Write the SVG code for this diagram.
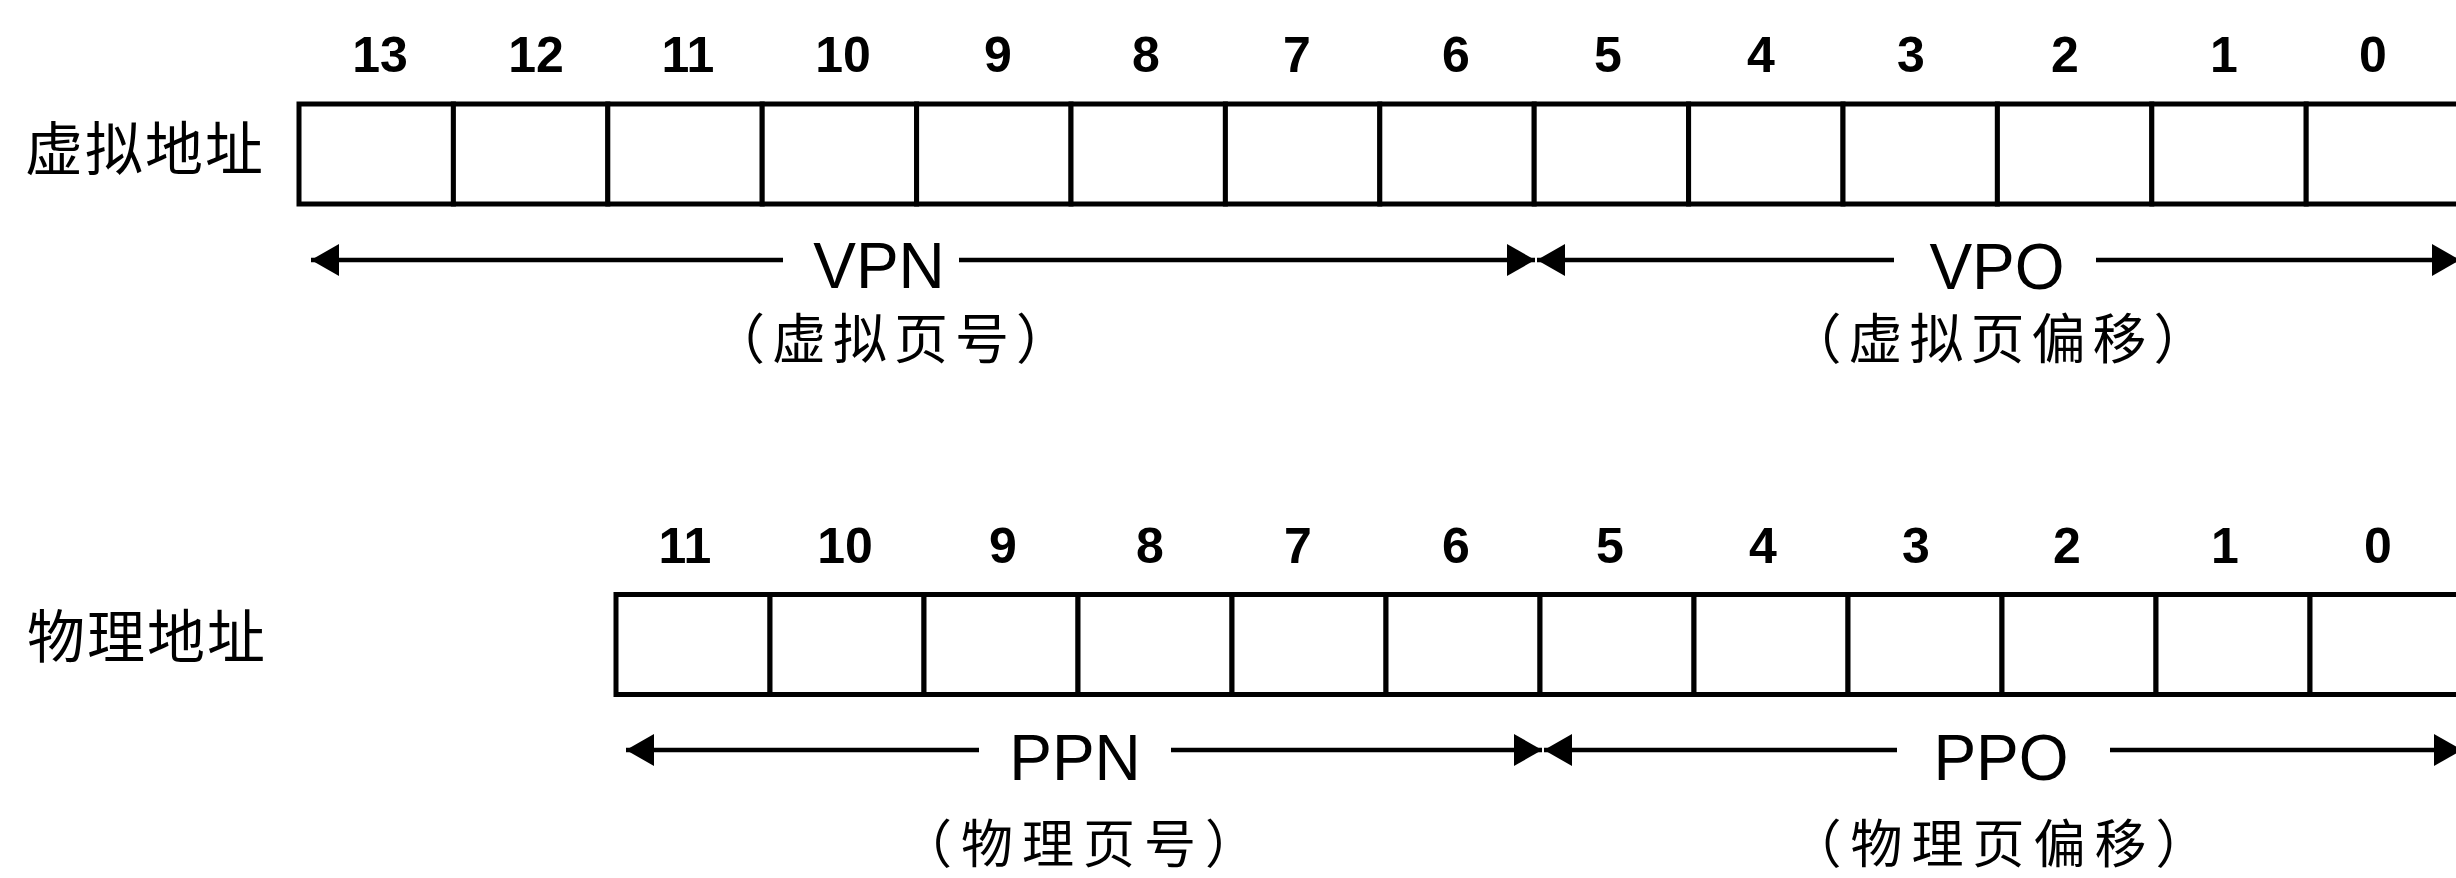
<svg xmlns="http://www.w3.org/2000/svg" width="2456" height="878" viewBox="0 0 2456 878">
<style>
.cell{fill:#fff;stroke:#000;stroke-width:5}
.num{font-family:"Liberation Sans",Arial,sans-serif;font-weight:bold;font-size:50px;fill:#000;text-anchor:middle}
.fld{font-family:"Liberation Sans",Arial,sans-serif;font-size:64px;fill:#000;text-anchor:middle}
.cjk{font-family:"Noto Sans CJK SC",sans-serif;font-size:54px;fill:#000;text-anchor:middle;letter-spacing:7px}
.cjk2{font-family:"Noto Sans CJK SC",sans-serif;font-size:52px;fill:#000;text-anchor:middle;letter-spacing:9px}
.lbl{font-family:"Noto Sans CJK SC",sans-serif;font-size:58px;fill:#000;letter-spacing:2px}
.arr{stroke:#000;stroke-width:4.5;fill:none;marker-end:url(#head)}
</style>
<defs>
<marker id="head" markerUnits="userSpaceOnUse" viewBox="0 0 28 32" refX="28" refY="16" markerWidth="28" markerHeight="32" orient="auto">
<path d="M0,0 L28,16 L0,32 Z" fill="#000"/>
</marker>
</defs>
<rect width="2456" height="878" fill="#fff"/>

<g id="label-virtual"><text class="lbl" x="25" y="170">虚拟地址</text></g>
<g id="label-physical"><text class="lbl" x="27" y="658">物理地址</text></g>

<g id="reg-virtual">
<rect class="cell" x="299" y="104" width="154.4" height="100"/>
<rect class="cell" x="453.4" y="104" width="154.4" height="100"/>
<rect class="cell" x="607.8" y="104" width="154.4" height="100"/>
<rect class="cell" x="762.2" y="104" width="154.4" height="100"/>
<rect class="cell" x="916.6" y="104" width="154.4" height="100"/>
<rect class="cell" x="1071" y="104" width="154.4" height="100"/>
<rect class="cell" x="1225.4" y="104" width="154.4" height="100"/>
<rect class="cell" x="1379.8" y="104" width="154.4" height="100"/>
<rect class="cell" x="1534.2" y="104" width="154.4" height="100"/>
<rect class="cell" x="1688.6" y="104" width="154.4" height="100"/>
<rect class="cell" x="1843" y="104" width="154.4" height="100"/>
<rect class="cell" x="1997.4" y="104" width="154.4" height="100"/>
<rect class="cell" x="2151.8" y="104" width="154.4" height="100"/>
<rect class="cell" x="2306.2" y="104" width="156" height="100"/>
</g>
<g id="bits-virtual">
<text class="num" x="380" y="72">13</text>
<text class="num" x="536" y="72">12</text>
<text class="num" x="688" y="72">11</text>
<text class="num" x="843" y="72">10</text>
<text class="num" x="998" y="72">9</text>
<text class="num" x="1146" y="72">8</text>
<text class="num" x="1297" y="72">7</text>
<text class="num" x="1456" y="72">6</text>
<text class="num" x="1608" y="72">5</text>
<text class="num" x="1761" y="72">4</text>
<text class="num" x="1911" y="72">3</text>
<text class="num" x="2065" y="72">2</text>
<text class="num" x="2224" y="72">1</text>
<text class="num" x="2373" y="72">0</text>
</g>

<g id="reg-physical">
<rect class="cell" x="616" y="594.5" width="154" height="100"/>
<rect class="cell" x="770" y="594.5" width="154" height="100"/>
<rect class="cell" x="924" y="594.5" width="154" height="100"/>
<rect class="cell" x="1078" y="594.5" width="154" height="100"/>
<rect class="cell" x="1232" y="594.5" width="154" height="100"/>
<rect class="cell" x="1386" y="594.5" width="154" height="100"/>
<rect class="cell" x="1540" y="594.5" width="154" height="100"/>
<rect class="cell" x="1694" y="594.5" width="154" height="100"/>
<rect class="cell" x="1848" y="594.5" width="154" height="100"/>
<rect class="cell" x="2002" y="594.5" width="154" height="100"/>
<rect class="cell" x="2156" y="594.5" width="154" height="100"/>
<rect class="cell" x="2310" y="594.5" width="156" height="100"/>
</g>
<g id="bits-physical">
<text class="num" x="685" y="563">11</text>
<text class="num" x="845" y="563">10</text>
<text class="num" x="1003" y="563">9</text>
<text class="num" x="1150" y="563">8</text>
<text class="num" x="1298" y="563">7</text>
<text class="num" x="1456" y="563">6</text>
<text class="num" x="1610" y="563">5</text>
<text class="num" x="1763" y="563">4</text>
<text class="num" x="1916" y="563">3</text>
<text class="num" x="2067" y="563">2</text>
<text class="num" x="2225" y="563">1</text>
<text class="num" x="2378" y="563">0</text>
</g>

<g id="connectors">
<line class="arr" x1="783" y1="260" x2="311" y2="260"/>
<line class="arr" x1="959" y1="260" x2="1535" y2="260"/>
<line class="arr" x1="1894" y1="260" x2="1537" y2="260"/>
<line class="arr" x1="2096" y1="260" x2="2460" y2="260"/>
<line class="arr" x1="979" y1="750" x2="626" y2="750"/>
<line class="arr" x1="1171" y1="750" x2="1542" y2="750"/>
<line class="arr" x1="1897" y1="750" x2="1544" y2="750"/>
<line class="arr" x1="2110" y1="750" x2="2462" y2="750"/>
</g>

<g id="field-vpn">
<text class="fld" x="879" y="288">VPN</text>
<text class="cjk" x="894" y="359">（虚拟页号）</text>
</g>
<g id="field-vpo">
<text class="fld" x="1997" y="289">VPO</text>
<text class="cjk" x="2001" y="359">（虚拟页偏移）</text>
</g>
<g id="field-ppn">
<text class="fld" x="1075" y="780">PPN</text>
<text class="cjk2" x="1083" y="863">（物理页号）</text>
</g>
<g id="field-ppo">
<text class="fld" x="2001" y="780">PPO</text>
<text class="cjk2" x="2003" y="863">（物理页偏移）</text>
</g>
</svg>
